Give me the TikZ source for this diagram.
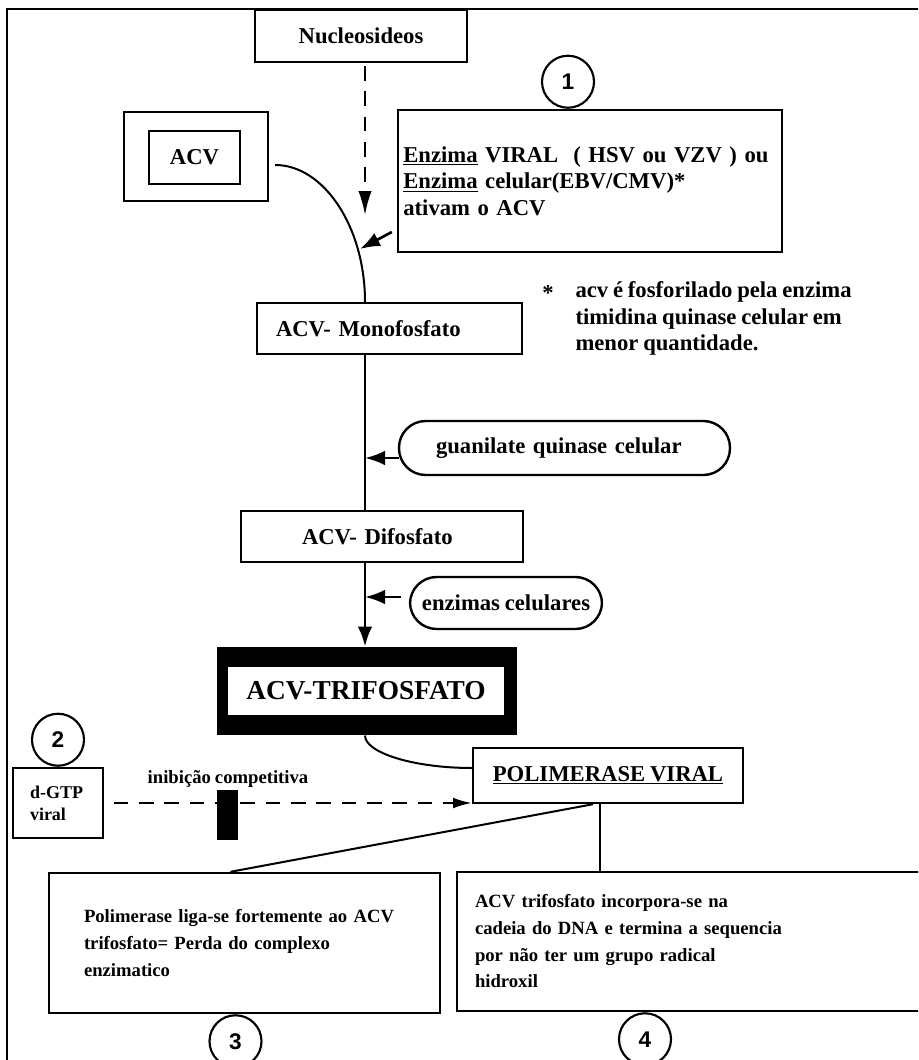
\documentclass[tikz,border=0pt]{standalone}
\usepackage{fontspec}
\setmainfont{Liberation Serif}[WordSpace=0.85]
\newfontfamily\numfont{Liberation Sans}
\usetikzlibrary{arrows.meta,calc}

\tikzset{every picture/.style={line width=0.75pt}}
\tikzset{
  fs/.style={font=\fontsize{17}{20}\selectfont\bfseries},
  fsm/.style={font=\fontsize{14}{20}\selectfont\bfseries},
  box/.style={draw, line width=1.8pt, fill=white, inner sep=0pt, fs},
  pill/.style={box, rounded corners=20pt},
  num/.style={circle, draw, line width=1.6pt, fill=white, minimum size=39pt, inner sep=0pt, font=\numfont\bfseries\fontsize{17}{17}\selectfont},
  arr/.style={line width=2pt, -{Latex[length=15pt,width=11pt]}},
  dsh/.style={line width=1.5pt, dash pattern=on 11pt off 8pt},
  conn/.style={line width=1.5pt},
}

\begin{document}
\begin{tikzpicture}[x=0.75pt,y=0.75pt,yscale=-1,xscale=1]
	\useasboundingbox (0,0) rectangle (918,1060);
	\clip (0,0) rectangle (918,1060);
	
	%Frame
	\draw [line width=1pt] (7,1075) -- (7,9) -- (930,9) ;
	\coordinate (sp) at (365,0);
	\coordinate (k0) at (365,215);
	\coordinate (k1) at (360,249);
	
	%Shape: Rectangle [Nucleosideos]
	\node (nuc) [box, minimum width=159pt, minimum height=39pt] at (361,36) {Nucleosideos};
	%Shape: Rectangle [ACV]
	\node (acvout) [box, minimum width=108pt, minimum height=66.75pt] at (196,156.5) {};
	\node (acvin) [box, minimum width=68.25pt, minimum height=39.75pt] at (194.5,157.5) {ACV};
	%Shape: Rectangle [enzima]
	\node (enz) [box, align=left, text width=280pt, inner xsep=4pt, minimum height=106.5pt] at (590,181) {\underline{Enzima} VIRAL~ ( HSV ou VZV ) ou\\\underline{Enzima} celular(EBV/CMV)*\\ativam o ACV};
	\node (n1) [num, anchor=south] at ($(enz.north)+(-22,0)$) {1};
	
	% Text Node
	\node (star) [fs, inner sep=0pt] at (548,293) {*};
	% Text Node
	\node (fnote) [fs, anchor=north west, align=left, inner sep=0pt] at (575,281) {acv é fosforilado pela enzima\\timidina quinase celular em\\menor quantidade.};
	
	%Shape: Rectangle [mono]
	\node (mono) [box, align=left, text width=170.25pt, inner xsep=14.25pt, minimum height=38.25pt] at (389.5,328.5) {ACV- Monofosfato};
	%Shape: Rounded [guanilate]
	\node (guan) [pill, align=left, text width=192.75pt, inner xsep=27.75pt, minimum height=40.5pt] at (564.5,448) {guanilate quinase celular};
	%Shape: Rectangle [di]
	\node (dif) [box, align=left, text width=120pt, inner xsep=45.75pt, minimum height=38.25pt] at (382,536.5) {ACV- Difosfato};
	%Shape: Rounded [enzimas]
	\node (enzc) [pill, minimum width=144pt, minimum height=39pt] at (506,603) {enzimas celulares};
	%Shape: Rectangle [tri]
	\node (tri) [fill=black, minimum width=225pt, minimum height=66pt, inner sep=0pt] at (367,691) {};
	\node (triin) [fill=white, minimum width=207pt, minimum height=36pt, inner sep=0pt, font=\fontsize{20.5}{21}\selectfont\bfseries] at (366,691) {ACV-TRIFOSFATO};
	%Shape: Rectangle [polimerase]
	\node (pol) [box, minimum width=202.5pt, minimum height=41.25pt] at (608,775.5) {\underline{POLIMERASE VIRAL}};
	%Shape: Rectangle [dGTP]
	\node (dgtp) [box, align=left, text width=42pt, inner xsep=12.75pt, minimum height=52.5pt, font=\fontsize{13.5}{16.5}\selectfont\bfseries] at (58,803) {d-GTP\\viral};
	\node (n2) [num, anchor=south] at (dgtp.north) {2};
	% Text Node
	\node (inib) [font=\fontsize{14}{14}\selectfont\bfseries, inner sep=0pt] at (228,779) {inibição competitiva};
	%Shape: Rectangle [3]
	\node (box3) [box, fsm, align=left, text width=240.75pt, inner xsep=26.25pt, minimum height=105pt] at (244.5,943) {Polimerase liga-se fortemente ao ACV\\trifosfato= Perda do complexo\\enzimatico};
	\node (n3) [num, anchor=north] at ($(box3.south)+(-9,0)$) {3};
	%Shape: Rectangle [4]
	\node (box4) [box, fsm, align=left, text width=324pt, inner xsep=13.5pt, minimum height=104.25pt] at (691,941.5) {ACV trifosfato incorpora-se na\\cadeia do DNA e termina a sequencia\\por não ter um grupo radical\\hidroxil};
	\node (n4) [num, anchor=north] at ($(box4.south)+(-46,0)$) {4};
	
	%Dashed Lines
	\draw [dsh, shorten <=2pt, -{Latex[length=18pt,width=10pt]}] (sp |- nuc.south) -- (k0) ;
	%Curve Lines
	\draw [conn] ($(acvout.east)+(6,8.5)$) .. controls (323.7,165) and (365,226.8) .. (sp |- mono.north) ;
	\draw [arr] ($(enz.west)+(-5,51)$) -- (k1) ;
	%Straight Lines
	\draw [conn] (sp |- mono.south) -- (sp |- dif.north) ;
	\path ($(guan.west)+(1,10)$) coordinate (g0) ;
	\draw [arr] (g0) -- (g0 -| sp) ;
	\draw [arr] (sp |- dif.south) -- (sp |- tri.north) ;
	\path ($(enzc.west)+(-8,-6)$) coordinate (e0) ;
	\draw [arr] (e0) -- (e0 -| sp) ;
	%Curve Lines
	\draw [conn] (sp |- tri.south) .. controls (365,753) and (414.5,768) .. ($(pol.west)+(0,-7.5)$) ;
	%Dashed Lines
	\draw [dsh, shorten <=7pt, -{Latex[length=14pt,width=8pt]}] (dgtp.east) -- (dgtp.east -| pol.west) ;
	\node (bar) [fill=black, minimum width=15.75pt, minimum height=37.5pt, inner sep=0pt] at (227.5,815) {};
	%Straight Lines
	\draw [conn] ($(pol.south)+(-15,0)$) -- ($(box3.north)+(-14,0)$) ;
	\path ($(pol.south)+(-8,0)$) coordinate (p0) ;
	\draw [conn] (p0) -- (p0 |- box4.north) ;
	
\end{tikzpicture}
\end{document}
